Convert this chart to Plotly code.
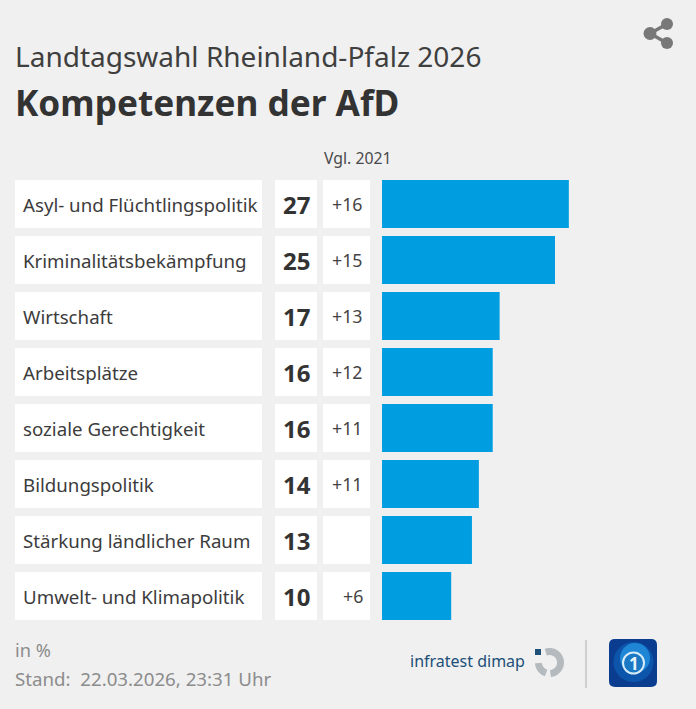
import math
import plotly.graph_objects as go

categories = ["Asyl- und Flüchtlingspolitik", "Kriminalitätsbekämpfung", "Wirtschaft", "Arbeitsplätze",
              "soziale Gerechtigkeit", "Bildungspolitik", "Stärkung ländlicher Raum", "Umwelt- und Klimapolitik"]
values = [27, 25, 17, 16, 16, 14, 13, 10]
changes = ["+16", "+15", "+13", "+12", "+11", "+11", "", "+6"]

W, H = 696, 709
FONT = "Noto Sans"
px = lambda x: x / W
py = lambda y: 1 - y / H

fig = go.Figure(go.Bar(x=values, y=categories, orientation="h", width=0.86,
                       marker=dict(color="#009ee0", line=dict(width=0)), hoverinfo="skip"))

shapes, ann = [], []

def text(x, y, s, size, color, anchor="left", bold=False, family=FONT, yref="paper"):
    ann.append(dict(x=px(x), y=y if yref != "paper" else py(y), xref="paper", yref=yref, text=f"<b>{s}</b>" if bold else s,
                    showarrow=False, xanchor=anchor, yanchor="middle",
                    font=dict(size=size, color=color, family=family)))

def rect(x0, y0, x1, y1, color):
    shapes.append(dict(type="rect", xref="paper", yref="paper", x0=px(x0), x1=px(x1), y0=py(y0), y1=py(y1),
                       fillcolor=color, line=dict(width=0), layer="below"))

def circle(cx, cy, r, fill, line=None, lw=0):
    shapes.append(dict(type="circle", xref="paper", yref="paper", x0=px(cx - r), x1=px(cx + r),
                       y0=py(cy + r), y1=py(cy - r), fillcolor=fill, line=dict(color=line or fill, width=lw)))

def seg(x0, y0, x1, y1, color, w):
    shapes.append(dict(type="line", xref="paper", yref="paper", x0=px(x0), x1=px(x1), y0=py(y0), y1=py(y1),
                       line=dict(color=color, width=w)))

def path(d, fill=None, line=None, lw=0):
    shapes.append(dict(type="path", xref="paper", yref="paper", path=d, fillcolor=fill or "rgba(0,0,0,0)",
                       line=dict(color=line or "rgba(0,0,0,0)", width=lw)))

def P(x, y):
    return f"{px(x):.5f},{py(y):.5f}"

def arc(cx, cy, r, a0, a1, color, lw):
    pts = [(cx + r * math.cos(a * math.pi / 180), cy + r * math.sin(a * math.pi / 180)) for a in range(a0, a1 + 1, 5)]
    path("M " + " L ".join(P(*q) for q in pts), line=color, lw=lw)

for i, (c, v, d) in enumerate(zip(categories, values, changes)):
    for x0, x1 in [(15, 262), (275, 317), (323, 370)]:
        shapes.append(dict(type="rect", xref="paper", yref="y", x0=px(x0), x1=px(x1), y0=i - 0.43, y1=i + 0.43,
                           fillcolor="white", line=dict(width=0), layer="below"))
    text(21, i, c, 18.7, "#3c3c3c", yref="y")
    text(296.5, i, str(v), 24, "#333333", "center", True, yref="y")
    if d:
        text(365, i, d, 17.8, "#444444", "right", yref="y")

text(13, 56.5, "Landtagswahl Rheinland-Pfalz 2026", 28, "#3f3f3f")
text(13, 102, "Kompetenzen der AfD", 35.2, "#333333", bold=True)
text(357.5, 158, "Vgl. 2021", 15.8, "#4a4a4a", "center")
text(13, 650, "in %", 18.2, "#8c8c8c")
text(13, 678, "Stand:  22.03.2026, 23:31 Uhr", 18.7, "#8c8c8c")
text(467, 661, "infratest dimap", 16, "#1d4f78", "center")

# share icon
seg(650, 33.5, 667, 24, "#787878", 3.5)
seg(650, 33.5, 667, 43, "#787878", 3.5)
circle(667, 24, 6, "#787878")
circle(667, 43, 6, "#787878")
circle(650, 33.5, 6.5, "#787878")

# infratest dimap mark
rect(535, 649, 541, 655, "#1d4f78")
arc(549.5, 662.5, 11, -110, 85, "#b4babd", 7)
arc(549.5, 662.5, 11, 108, 180, "#b4babd", 7)

# separator
seg(586, 640, 586, 688, "#c4c4c4", 1.5)

# ARD tagesschau badge
x0, x1, y0, y1, r = 609, 657, 639, 687, 6
path(f"M {P(x0 + r, y0)} L {P(x1 - r, y0)} Q {P(x1, y0)} {P(x1, y0 + r)} L {P(x1, y1 - r)} Q {P(x1, y1)} {P(x1 - r, y1)} "
     f"L {P(x0 + r, y1)} Q {P(x0, y1)} {P(x0, y1 - r)} L {P(x0, y0 + r)} Q {P(x0, y0)} {P(x0 + r, y0)} Z", fill="#0a3d8f")
circle(633.5, 662, 20, "#0c55ab")
circle(635, 658, 15, "#1f86d6")
circle(633.5, 663, 10.5, "#1a78c4", "#d5ecf8", 2)
text(633.5, 663, "1", 17, "#e8f4fb", "center", True)

fig.update_layout(
    width=W, height=H, autosize=False, margin=dict(l=0, r=0, t=0, b=0),
    paper_bgcolor="#f0f0f0", plot_bgcolor="rgba(0,0,0,0)", showlegend=False,
    shapes=shapes, annotations=ann, font=dict(family=FONT),
    xaxis=dict(domain=[px(382), 1], range=[0, (W - 382) / 6.92], visible=False, fixedrange=True),
    yaxis=dict(domain=[py(624), py(176)], autorange=False, range=[7.5, -0.5], visible=False, fixedrange=True,
               type="category", categoryorder="array", categoryarray=categories),
)
fig.write_html("out.html", config=dict(displayModeBar=False),
               post_script="document.body.style.margin='0';document.body.style.overflow='hidden';document.body.style.background='#f0f0f0';")
